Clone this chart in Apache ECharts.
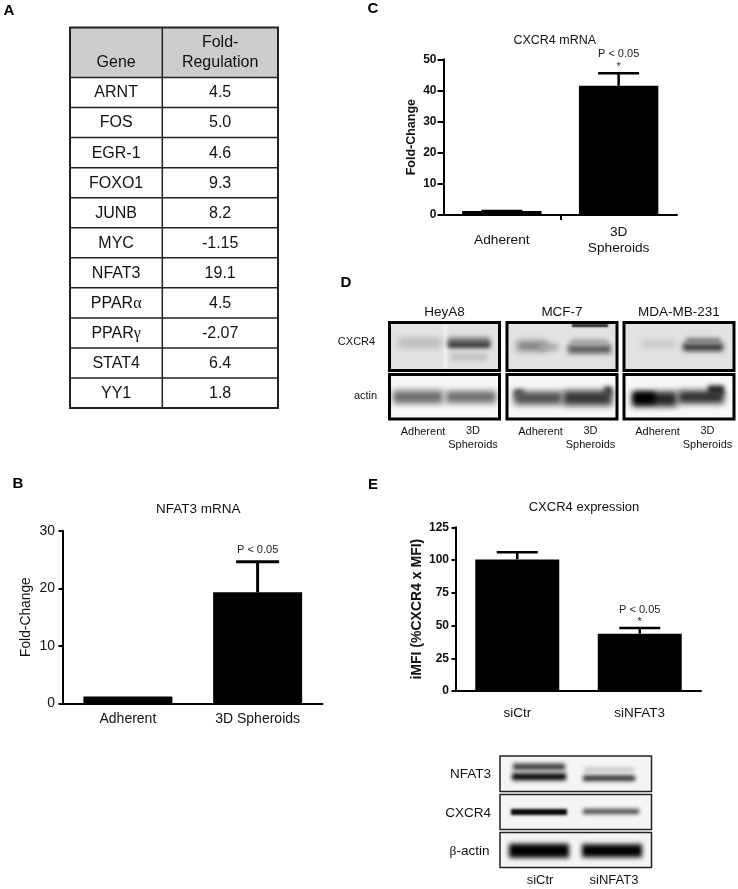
<!DOCTYPE html>
<html>
<head>
<meta charset="utf-8">
<style>
  html, body { margin: 0; padding: 0; background: #fff; }
  #main { width: 738px; height: 889px; }
</style>
<script src="https://cdn.jsdelivr.net/npm/echarts@6/dist/echarts.min.js"></script>
</head>
<body>
<div id="main"></div>
<script>
// 表 A
const tableHeader = ['Gene', 'Fold-\nRegulation']
const tableGenes = ['ARNT', 'FOS', 'EGR-1', 'FOXO1', 'JUNB', 'MYC', 'NFAT3', 'PPARα', 'PPARγ', 'STAT4', 'YY1']
const tableFold = ['4.5', '5.0', '4.6', '9.3', '8.2', '-1.15', '19.1', '4.5', '-2.07', '6.4', '1.8']

// 柱状图 B
const nfat3Categories = ['Adherent', '3D Spheroids']
const nfat3Values = [1.2, 19.3]
const nfat3Upper = [null, 24.6]
const nfat3Ticks = [0, 10, 20, 30]

// 柱状图 C
const cxcr4Categories = ['Adherent', '3D\nSpheroids']
const cxcr4Values = [1.3, 41.5]
const cxcr4Upper = [1.3, 45.5]
const cxcr4Ticks = [0, 10, 20, 30, 40, 50]

// 柱状图 E
const imfiCategories = ['siCtr', 'siNFAT3']
const imfiValues = [100.5, 43.8]
const imfiUpper = [105.9, 48.1]
const imfiTicks = [0, 25, 50, 75, 100, 125]

// 印迹 D / E
const blotCells = ['HeyA8', 'MCF-7', 'MDA-MB-231']
const blotRows = ['CXCR4', 'actin']
const blotLanes = ['Adherent', '3D\nSpheroids']
const knockdownRows = ['NFAT3', 'CXCR4', 'β-actin']
const knockdownLanes = ['siCtr', 'siNFAT3']

const sans = '"Liberation Sans", Arial, sans-serif'
const serif = '"Liberation Serif", serif'
const ink = '#111'

// 误差线:从柱顶到上限,带横帽,可选 P 值文字
function errorSeries (xIdx, yIdx, values, upper, opt) {
  return {
    type: 'custom',
    xAxisIndex: xIdx,
    yAxisIndex: yIdx,
    z: 3,
    data: values.map((v, i) => [i, v, upper[i]]),
    encode: { x: 0, y: [1, 2] },
    clip: false,
    renderItem (params, api) {
      const children = []
      if (api.value(2) == null || isNaN(api.value(2))) return { type: 'group', children }
      const x = api.coord([api.value(0), 0])[0]
      const y0 = api.coord([api.value(0), api.value(1)])[1]
      const y1 = api.coord([api.value(0), api.value(2)])[1]
      const s = { stroke: '#000', lineWidth: opt.lineWidth }
      children.push({ type: 'line', shape: { x1: x, y1: y0, x2: x, y2: y1 }, style: s })
      children.push({ type: 'line', shape: { x1: x - opt.cap / 2, y1, x2: x + opt.cap / 2, y2: y1 }, style: s })
      if (params.dataIndex === opt.sigIndex) {
        children.push({
          type: 'text',
          style: { x, y: y1 + opt.pOffset, text: 'P < 0.05', align: 'center', verticalAlign: 'middle', font: '11px ' + sans, fill: '#222' }
        })
        if (opt.star) {
          children.push({
            type: 'text',
            style: { x, y: y1 + opt.starOffset, text: '*', align: 'center', verticalAlign: 'middle', font: '11px ' + sans, fill: '#222' }
          })
        }
      }
      return { type: 'group', children }
    }
  }
}

function yAxisFor (gridIndex, ticks, name, o) {
  return {
    type: 'value',
    gridIndex,
    min: 0,
    max: ticks[ticks.length - 1],
    interval: ticks[1] - ticks[0],
    name,
    nameLocation: 'middle',
    nameGap: o.nameGap,
    nameTextStyle: { fontFamily: sans, fontSize: o.nameSize, fontWeight: o.weight, color: ink },
    splitLine: { show: false },
    axisLine: { show: true, onZero: false, lineStyle: { color: '#000', width: 2 } },
    axisTick: { show: true, length: o.tick, lineStyle: { color: '#000', width: 2 } },
    axisLabel: { margin: o.margin, fontFamily: sans, fontSize: o.size, fontWeight: o.weight, color: ink }
  }
}

function xAxisFor (gridIndex, data, o) {
  return {
    type: 'category',
    gridIndex,
    data,
    axisLine: { show: true, lineStyle: { color: '#000', width: 2 } },
    axisTick: { show: false },
    axisLabel: {
      interval: 0,
      margin: o.margin,
      verticalAlign: o.verticalAlign,
      lineHeight: o.lineHeight,
      fontFamily: sans,
      fontSize: o.size,
      color: ink
    }
  }
}

function barSeries (xIdx, yIdx, values, barWidth) {
  return {
    type: 'bar',
    xAxisIndex: xIdx,
    yAxisIndex: yIdx,
    data: values,
    barWidth,
    itemStyle: { color: '#000' },
    silent: true
  }
}

// ---- graphic 部分:表格、面板字母、印迹 ----
const g = []

function addText (text, x, y, size, o) {
  g.push({
    type: 'text',
    z: 10,
    x,
    y,
    style: Object.assign({
      text,
      font: ((o && o.bold) ? 'bold ' : '') + size + 'px ' + sans,
      fill: ink,
      align: 'center',
      verticalAlign: 'middle',
      lineHeight: (o && o.lineHeight) || undefined
    }, (o && o.style) || {})
  })
}

function addRect (x, y, w, h, fill, stroke, lineWidth) {
  g.push({ type: 'rect', z: 1, shape: { x, y, width: w, height: h }, style: { fill: fill || 'none', stroke: stroke || 'none', lineWidth: lineWidth || 0 } })
}

function addLine (x1, y1, x2, y2, lineWidth, stroke) {
  g.push({ type: 'line', z: 5, shape: { x1, y1, x2, y2 }, style: { stroke, lineWidth } })
}

// 一条印迹带:[左, 右, 中心y, 高, 灰度, 模糊]
// 矩形本身放到画布外,只让它的阴影落进来,这样才是全模糊的
const OFF = 3000
function addBand (b) {
  const x = b[0]; const right = b[1]; const cy = b[2]; const h = b[3]; const c = b[4]
  g.push({
    type: 'rect',
    z: 3,
    shape: { x: x - OFF, y: cy - h / 2, width: right - x, height: h },
    style: { fill: c, shadowBlur: b[5] == null ? 4 : b[5], shadowColor: c, shadowOffsetX: OFF }
  })
}

// 面板字母
;[['A', 9, 11], ['B', 18, 484], ['C', 373, 9], ['D', 346, 283], ['E', 373, 485]].forEach(p => {
  addText(p[0], p[1], p[2], 15, { bold: true, style: { fill: '#000' } })
})

// 表格
const tblLeft = 70; const tblMid = 162.3; const tblRight = 278
const tblTop = 27.5; const tblHeadBottom = 77.5; const tblRow = 30.05
const tblBottom = tblHeadBottom + tblRow * tableGenes.length
addRect(tblLeft, tblTop, tblRight - tblLeft, tblHeadBottom - tblTop, '#cccccc')
g.push({ type: 'text', z: 10, x: (tblLeft + tblMid) / 2, y: 63, style: { text: tableHeader[0], font: '16px ' + sans, fill: ink, align: 'center', verticalAlign: 'middle' } })
g.push({ type: 'text', z: 10, x: (tblMid + tblRight) / 2, y: 53, style: { text: tableHeader[1], font: '16px ' + sans, fill: ink, align: 'center', verticalAlign: 'middle', lineHeight: 20 } })
tableGenes.forEach((gene, i) => {
  const cy = tblHeadBottom + tblRow * (i + 0.5) + 0.5
  const greek = gene.match(/[αγ]/)
  g.push({
    type: 'text',
    z: 10,
    x: (tblLeft + tblMid) / 2,
    y: cy,
    style: greek
      ? {
          text: '{a|' + gene.replace(greek[0], '') + '}{b|' + greek[0] + '}',
          align: 'center',
          verticalAlign: 'middle',
          rich: { a: { font: '16px ' + sans, fill: ink }, b: { font: '16px ' + serif, fill: ink } }
        }
      : { text: gene, font: '16px ' + sans, fill: ink, align: 'center', verticalAlign: 'middle' }
  })
  addText(tableFold[i], (tblMid + tblRight) / 2, cy, 16)
  addLine(tblLeft, tblHeadBottom + tblRow * i, tblRight, tblHeadBottom + tblRow * i, 1.5, '#222')
})
addLine(tblMid, tblTop, tblMid, tblBottom, 1.5, '#222')
addRect(tblLeft, tblTop, tblRight - tblLeft, tblBottom - tblTop, 'none', '#222', 2)
g[g.length - 1].z = 6

// 印迹 D
const dBoxes = [[389.5, 499.5], [507, 617], [624, 734]]
const dRows = [[322.5, 370.5, '#e2e2e2'], [374.5, 419, '#f8f8f8']]
const dBands = [
  [
    [[444, 447, 346, 44, '#f6f6f6', 3], [398, 441, 343, 10, '#bcbcbc', 6], [448, 490, 341, 7, '#767676', 5], [448, 490, 345, 6, '#3a3a3a', 4], [451, 487, 357, 6, '#bcbcbc', 5]],
    [[393, 443, 397, 13, '#6c6c6c', 6], [446, 496, 397, 12, '#6c6c6c', 6]]
  ],
  [
    [[517, 547, 346, 10, '#808080', 6], [540, 558, 347, 7, '#a8a8a8', 5], [568, 611, 349, 9, '#5c5c5c', 5], [571, 608, 342, 5, '#a0a0a0', 4], [572, 608, 325.5, 3, '#222222', 2]],
    [[514, 562, 398, 13, '#505050', 6], [563, 612, 398, 15, '#383838', 6], [604, 612, 391, 9, '#404040', 4], [514, 524, 393, 7, '#555555', 4]]
  ],
  [
    [[641, 675, 344, 8, '#c6c6c6', 6], [683, 723, 347, 8, '#363636', 5], [686, 720, 341, 6, '#7c7c7c', 4]],
    [[632, 677, 399, 15, '#262626', 6], [634, 655, 398, 11, '#000000', 5], [678, 724, 397, 13, '#303030', 6], [708, 724, 390, 9, '#2a2a2a', 4]]
  ]
]
blotCells.forEach((cell, c) => {
  const box = dBoxes[c]
  addText(cell, (box[0] + box[1]) / 2, 312.5, 13.5)
  dRows.forEach((r, ri) => {
    addRect(box[0], r[0], box[1] - box[0], r[1] - r[0], r[2])
    dBands[c][ri].forEach(addBand)
    addRect(box[0], r[0], box[1] - box[0], r[1] - r[0], 'none', '#000', 3)
    g[g.length - 1].z = 6
  })
  addText(blotLanes[0], box[0] + 33.5, 432, 11)
  addText(blotLanes[1], box[0] + 83.5, 438, 11, { lineHeight: 13.5 })
})
addText(blotRows[0], 356.5, 341.7, 11)
addText(blotRows[1], 365.5, 395.7, 11)

// 印迹 E
const eBoxLeft = 500; const eBoxRight = 651.5
const eRows = [[756, 791.5], [794.5, 829.5], [832.5, 867.5]]
const eBands = [
  [[513, 565, 766.7, 6, '#303030', 4], [512, 566, 776.7, 7, '#000000', 4], [584, 634, 769.5, 4, '#bdbdbd', 4], [583, 635, 778.3, 5, '#151515', 4]],
  [[511, 567, 812, 6, '#000000', 3], [583, 639, 811.5, 4, '#1c1c1c', 4]],
  [[509, 569, 850.7, 14, '#000000', 5], [582, 642, 850.7, 13, '#000000', 5]]
]
knockdownRows.forEach((row, i) => {
  const r = eRows[i]
  addRect(eBoxLeft, r[0], eBoxRight - eBoxLeft, r[1] - r[0], '#f5f5f5')
  eBands[i].forEach(addBand)
  addRect(eBoxLeft, r[0], eBoxRight - eBoxLeft, r[1] - r[0], 'none', '#222', 1.5)
  g[g.length - 1].z = 6
  const y = (r[0] + r[1]) / 2 + 1
  if (row[0] === 'β') {
    g.push({
      type: 'text',
      z: 10,
      x: 489.5,
      y,
      style: {
        text: '{b|β}{a|-actin}',
        align: 'right',
        verticalAlign: 'middle',
        rich: { a: { font: '13.5px ' + sans, fill: ink }, b: { font: '13.5px ' + serif, fill: ink } }
      }
    })
  } else {
    addText(row, 491, y, 13.5, { style: { align: 'right' } })
  }
})
addText(knockdownLanes[0], 540, 880.5, 13)
addText(knockdownLanes[1], 614, 880.5, 13)

// ---- 图表 ----
const chart = echarts.init(document.getElementById('main'), null, { renderer: 'canvas' })
chart.setOption({
  animation: false,
  backgroundColor: '#fff',
  title: [
    { text: 'NFAT3 mRNA', left: 193.3, top: 497, textAlign: 'center', textStyle: { fontFamily: sans, fontSize: 13.5, fontWeight: 'normal', color: ink } },
    { text: 'CXCR4 mRNA', left: 549.7, top: 29, textAlign: 'center', textStyle: { fontFamily: sans, fontSize: 12.5, fontWeight: 'normal', color: ink } },
    { text: 'CXCR4 expression', left: 579, top: 496, textAlign: 'center', textStyle: { fontFamily: sans, fontSize: 13, fontWeight: 'normal', color: ink } }
  ],
  grid: [
    { left: 63, top: 530.7, width: 259.5, height: 172.8 },
    { left: 443.5, top: 59.3, width: 233.5, height: 155.7 },
    { left: 456, top: 527.3, width: 245, height: 163.7 }
  ],
  xAxis: [
    xAxisFor(0, nfat3Categories, { margin: 9, size: 14 }),
    xAxisFor(1, cxcr4Categories, { margin: 25.5, size: 13.7, verticalAlign: 'middle', lineHeight: 16 }),
    xAxisFor(2, imfiCategories, { margin: 15, size: 13.5 }),
    // C 图中间那个刻度
    {
      type: 'value',
      gridIndex: 1,
      position: 'bottom',
      min: 0,
      max: 2,
      splitLine: { show: false },
      axisLine: { show: false },
      axisLabel: { show: false },
      axisTick: { show: true, customValues: [1], length: 5, lineStyle: { color: '#000', width: 2 } }
    }
  ],
  yAxis: [
    yAxisFor(0, nfat3Ticks, 'Fold-Change', { nameGap: 30, nameSize: 13.8, weight: 'normal', size: 14, margin: 8, tick: 4.5 }),
    yAxisFor(1, cxcr4Ticks, 'Fold-Change', { nameGap: 25, nameSize: 12.5, weight: 'bold', size: 12, margin: 7, tick: 6 }),
    yAxisFor(2, imfiTicks, 'iMFI (%CXCR4 x MFI)', { nameGap: 32, nameSize: 14, weight: 'bold', size: 12, margin: 7, tick: 4.5 })
  ],
  series: [
    barSeries(0, 0, nfat3Values, 89),
    errorSeries(0, 0, nfat3Values, nfat3Upper, { lineWidth: 3, cap: 43, sigIndex: 1, pOffset: -11.7 }),
    barSeries(1, 1, cxcr4Values, 79.4),
    errorSeries(1, 1, cxcr4Values, cxcr4Upper, { lineWidth: 2.5, cap: 41, sigIndex: 1, pOffset: -19, star: true, starOffset: -6.5 }),
    barSeries(2, 2, imfiValues, 84),
    errorSeries(2, 2, imfiValues, imfiUpper, { lineWidth: 2.5, cap: 41, sigIndex: 1, pOffset: -18, star: true, starOffset: -6 })
  ],
  graphic: { elements: g }
})
</script>
</body>
</html>
